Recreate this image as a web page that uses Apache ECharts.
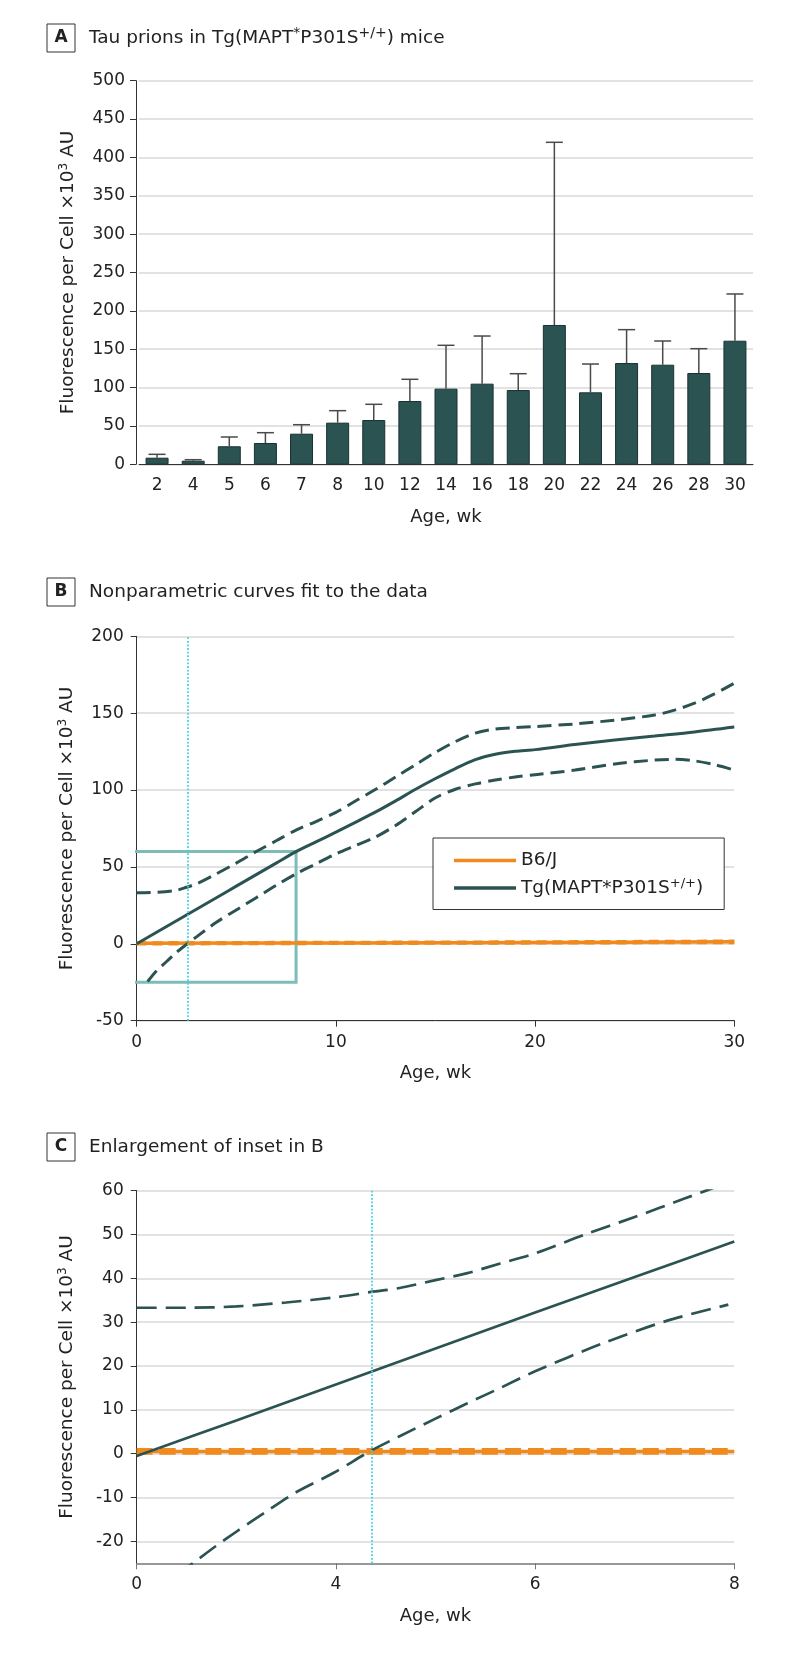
<!DOCTYPE html>
<html>
<head>
<meta charset="utf-8">
<script src="https://cdn.jsdelivr.net/npm/echarts@6/dist/echarts.min.js"></script>
<style>html,body{margin:0;padding:0;background:#fff}#chart{width:794px;height:1658px}</style>
</head>
<body>
<div id="chart"></div>
<script>
// ---------- Panel A: bar chart ----------
const ageCategories = ['2','4','5','6','7','8','10','12','14','16','18','20','22','24','26','28','30'];
const meanFluorescence = [8.6,4.7,23.5,27.8,39.9,54.3,57.7,82.5,98.6,105.1,96.8,181.6,93.8,132.0,129.8,119.0,161.1];
const upperErrorBar = [13.0,6.0,35.6,41.2,51.6,69.9,78.2,110.8,155.1,167.2,118.1,419.7,130.7,175.5,160.7,150.7,222.0];

// ---------- Panel B: nonparametric fits (x in weeks) ----------
const tgFitWeeks = [0,1,2,3,4,5,6,7,8,9,10,11,12,13,14,15,16,17,18,19,20,22,24,26,28,30];
const tgFitB = [0,7.5,15,22.5,30,37.5,45,52.5,60,66.3,72.6,79.2,85.8,93,100.5,107.5,114,119.8,123.3,125.2,126.3,129.6,132.6,135.2,137.8,141];
const tgUpperWeeks = [0,1,2,2.5,3,4,5,6,7,8,9,10,11,12,13,14,15,16,17,18,19,20,22,24,26,27,28,29,30];
const tgUpperB = [33.2,33.5,34.8,36.8,39,45.5,52.5,60,67,74,79.5,85.5,93,100.5,108.5,116.5,124.5,131.5,137,139.7,140.6,141.3,143,145.5,148.8,152,156.5,162.5,169.5];
const tgLowerWeeks = [0.55,1,1.5,2,2.5,3,4,5,6,7,8,9,10,11,12,13,14,15,16,17,18,19,20,22,24,26,27,28,29,30];
const tgLowerB = [-24.5,-17.5,-11.5,-5.5,-0.4,4.5,14,22,30,38,45.5,52,58.5,64,69.5,77,86,95,100.5,104,106.5,108.5,110,113,117,119.5,120,119,116.5,113];
const b6Weeks = [0,10,20,30];
const b6FitB = [0.3,0.6,0.9,1.3];
const b6UpperB = [0.9,1.2,1.5,2.0];
const b6LowerB = [-0.3,0,0.3,0.6];
const bCrossWeek = 2.54;          // dotted cyan line
const insetWeeks = [-2.14, 8];    // inset rectangle drawn in B
const insetValues = [-25, 60];

// ---------- Panel C: enlargement (x in tick-position units, labelled as printed) ----------
const cXTickLabels = ['0','4','6','8'];
const cYTicks = [-20,-10,0,10,20,30,40,50,60];
const cTgFitX = [0,0.5,1,1.5,2,2.5,3];
const cTgFit = [-0.5,7.6,15.8,24,32.2,40.3,48.4];
const cTgUpperX = [0,0.25,0.5,0.75,1,1.177,1.32,1.5,1.66,1.825,2,2.25,2.5,2.75,3];
const cTgUpper = [33.3,33.3,33.6,34.5,35.7,36.9,37.8,39.6,41.2,43.4,45.7,50,54,58.2,62.4];
const cTgLowerX = [0.2,0.284,0.4,0.5,0.653,0.8,0.987,1.177,1.32,1.5,1.66,1.825,2,2.33,2.66,2.97];
const cTgLower = [-27.7,-24.9,-21,-17.8,-13.1,-8.8,-4.4,0.7,4,8,11.5,15,18.8,25,30.3,34];
const cB6X = [0,3];
const cB6Fit = [0.5,0.5];
const cB6Upper = [1.0,1.0];
const cB6Lower = [0.05,0.05];
const cCrossPos = 1.177;

// ---------- styling ----------
const FONT = 'DejaVu Sans';
const TXT = '#222';
const TEAL = '#2b5352';
const ORANGE = '#f08a1e';
const CYAN = '#3fd6e2';
const INSET = '#7dbdb9';
const GRIDC = '#d9d9d9';
const TG_NAME = 'Tg(MAPT*P301S+/+)';

const zip = (xs, ys) => xs.map((x, i) => [x, ys[i]]);

const chart = echarts.init(document.getElementById('chart'), null, {renderer: 'canvas'});

function titleOpt(letter, body, top) {
  return {
    left: 47, top: top, padding: 0,
    text: '{box|' + letter + '}{gap|}' + body,
    textStyle: {
      fontFamily: FONT, color: TXT, fontWeight: 'normal',
      rich: {
        box: {width: 28, height: 28, lineHeight: 28, align: 'center', borderColor: '#333', borderWidth: 1,
              fontWeight: 'bold', fontSize: 17, fontFamily: FONT, color: TXT},
        gap: {width: 14},
        t: {fontSize: 18.5, fontFamily: FONT, color: TXT},
        sup: {fontSize: 14, fontFamily: FONT, color: TXT, padding: [0, 0, 10, 0]}
      }
    }
  };
}

const yName = '{n|Fluorescence per Cell ×10}{s|3}{n| AU}';
const yNameStyle = {
  color: TXT, fontFamily: FONT,
  rich: {
    n: {fontSize: 18.5, fontFamily: FONT, color: TXT},
    s: {fontSize: 12, fontFamily: FONT, color: TXT, padding: [0, 0, 9, 0]}
  }
};
const axisLabelStyle = {fontSize: 17, color: TXT, fontFamily: FONT};
const nameStyle = {fontSize: 18, color: TXT, fontFamily: FONT};

function lineSeries(name, data, xi, color, width, dash, z) {
  return {
    name: name, type: 'line', xAxisIndex: xi, yAxisIndex: xi, data: data,
    symbol: 'none', smooth: 0.3, z: z || 3,
    itemStyle: {color: color},
    lineStyle: {color: color, width: width, type: dash || 'solid'},
    emphasis: {disabled: true}
  };
}

const cross = (v) => ({
  silent: true, symbol: 'none', label: {show: false},
  lineStyle: {color: CYAN, type: 'dotted', width: 1.8},
  data: [{xAxis: v}]
});

const option = {
  animation: false,
  backgroundColor: '#fff',
  textStyle: {fontFamily: FONT, color: TXT},
  title: [
    titleOpt('A', '{t|Tau prions in Tg(MAPT}{sup|*}{t|P301S}{sup|+/+}{t|) mice}', 24),
    titleOpt('B', '{t|Nonparametric curves fit to the data}', 578),
    titleOpt('C', '{t|Enlargement of inset in B}', 1133)
  ],
  legend: {
    data: ['B6/J', TG_NAME],
    orient: 'vertical', left: 433, top: 838,
    padding: [13, 21, 12, 21], itemGap: 7, itemWidth: 62, itemHeight: 3.5,
    icon: 'rect',
    borderColor: '#333', borderWidth: 1, backgroundColor: '#fff',
    textStyle: {
      fontSize: 18.5, color: TXT, fontFamily: FONT,
      rich: {
        n: {fontSize: 18.5, fontFamily: FONT, color: TXT, lineHeight: 20},
        s: {fontSize: 13, fontFamily: FONT, color: TXT, padding: [0, 0, 9, 0]}
      }
    },
    formatter: n => n === TG_NAME ? '{n|Tg(MAPT*P301S}{s|+/+}{n|)}' : '{n|' + n + '}'
  },
  grid: [
    {left: 139, top: 80.7, width: 614, height: 383.6},
    {left: 136.7, top: 636.3, width: 597.6, height: 384.4},
    {left: 136.7, top: 1190.7, width: 597.6, height: 372.6}
  ],
  xAxis: [
    {
      type: 'category', gridIndex: 0, data: ageCategories,
      axisTick: {show: false},
      axisLine: {show: true, lineStyle: {color: '#333', width: 1}},
      axisLabel: Object.assign({margin: 13, interval: 0}, axisLabelStyle),
      name: 'Age, wk', nameLocation: 'middle', nameGap: 44, nameTextStyle: nameStyle
    },
    {
      type: 'value', gridIndex: 1, min: 0, max: 30, interval: 10,
      axisLine: {show: true, onZero: false, lineStyle: {color: '#333', width: 1}},
      axisTick: {show: true, length: 6, lineStyle: {color: '#333'}},
      splitLine: {show: false},
      axisLabel: Object.assign({margin: 13}, axisLabelStyle),
      name: 'Age, wk', nameLocation: 'middle', nameGap: 44, nameTextStyle: nameStyle
    },
    {
      type: 'value', gridIndex: 2, min: 0, max: 3, interval: 1,
      axisLine: {show: true, onZero: false, lineStyle: {color: '#777', width: 1.5}},
      axisTick: {show: true, length: 6, lineStyle: {color: '#777'}},
      splitLine: {show: false},
      axisLabel: Object.assign({margin: 13, formatter: v => cXTickLabels[Math.round(v)]}, axisLabelStyle),
      name: 'Age, wk', nameLocation: 'middle', nameGap: 44, nameTextStyle: nameStyle
    }
  ],
  yAxis: [
    {
      type: 'value', gridIndex: 0, min: 0, max: 500, interval: 50, offset: 3,
      axisLine: {show: true, lineStyle: {color: '#333', width: 1}},
      axisTick: {show: true, length: 6, lineStyle: {color: '#333'}},
      splitLine: {show: true, lineStyle: {color: GRIDC, width: 1.5}},
      axisLabel: Object.assign({margin: 11}, axisLabelStyle),
      name: yName, nameLocation: 'middle', nameGap: 57, nameRotate: 90, nameTextStyle: yNameStyle
    },
    {
      type: 'value', gridIndex: 1, min: -50, max: 200, interval: 50,
      axisLine: {show: true, onZero: false, lineStyle: {color: '#333', width: 1}},
      axisTick: {show: true, length: 6, lineStyle: {color: '#333'}},
      splitLine: {show: true, lineStyle: {color: GRIDC, width: 1.5}},
      axisLabel: Object.assign({margin: 13}, axisLabelStyle),
      name: yName, nameLocation: 'middle', nameGap: 59, nameRotate: 90, nameTextStyle: yNameStyle
    },
    {
      type: 'value', gridIndex: 2, min: -25, max: 60,
      axisLine: {show: true, onZero: false, lineStyle: {color: '#333', width: 1}},
      axisTick: {show: true, length: 6, lineStyle: {color: '#333'}, customValues: cYTicks},
      splitLine: {show: true, lineStyle: {color: GRIDC, width: 1.5}},
      axisLabel: Object.assign({margin: 13, customValues: cYTicks}, axisLabelStyle),
      name: yName, nameLocation: 'middle', nameGap: 59, nameRotate: 90, nameTextStyle: yNameStyle
    }
  ],
  series: [
    // Panel A
    {
      name: 'Mean', type: 'bar', xAxisIndex: 0, yAxisIndex: 0, data: meanFluorescence,
      barWidth: 23,
      itemStyle: {color: TEAL, borderColor: '#1a3131', borderWidth: 1},
      emphasis: {disabled: true}, z: 2
    },
    {
      name: 'SD', type: 'custom', xAxisIndex: 0, yAxisIndex: 0,
      data: ageCategories.map((c, i) => [i, meanFluorescence[i], upperErrorBar[i]]),
      encode: {x: 0, y: [1, 2]}, z: 3,
      renderItem: (params, api) => {
        const p0 = api.coord([api.value(0), api.value(1)]);
        const p1 = api.coord([api.value(0), api.value(2)]);
        const half = 8.5;
        const st = {stroke: '#4a4a4a', lineWidth: 1.5};
        return {type: 'group', children: [
          {type: 'line', shape: {x1: p0[0], y1: p0[1], x2: p1[0], y2: p1[1]}, style: st},
          {type: 'line', shape: {x1: p1[0] - half, y1: p1[1], x2: p1[0] + half, y2: p1[1]}, style: st}
        ]};
      }
    },
    // Panel B
    {
      name: 'Inset', type: 'line', xAxisIndex: 1, yAxisIndex: 1, clip: false, symbol: 'none', z: 1,
      data: [[insetWeeks[0], insetValues[1]], [insetWeeks[1], insetValues[1]], [insetWeeks[1], insetValues[0]],
             [insetWeeks[0], insetValues[0]], [insetWeeks[0], insetValues[1]]],
      lineStyle: {color: INSET, width: 3, join: 'miter'}, emphasis: {disabled: true}
    },
    lineSeries('B6/J upper', zip(b6Weeks, b6UpperB), 1, ORANGE, 2.5, [10, 6], 2),
    lineSeries('B6/J lower', zip(b6Weeks, b6LowerB), 1, ORANGE, 2.5, [10, 6], 2),
    lineSeries('B6/J', zip(b6Weeks, b6FitB), 1, ORANGE, 3.5, 'solid', 2),
    lineSeries('Tg upper', zip(tgUpperWeeks, tgUpperB), 1, TEAL, 3, [14, 7], 4),
    lineSeries('Tg lower', zip(tgLowerWeeks, tgLowerB), 1, TEAL, 3, [14, 7], 4),
    Object.assign(lineSeries(TG_NAME, zip(tgFitWeeks, tgFitB), 1, TEAL, 3, 'solid', 4), {markLine: cross(bCrossWeek)}),
    // Panel C
    lineSeries('B6/J upper C', zip(cB6X, cB6Upper), 2, ORANGE, 2.5, [16, 7], 2),
    lineSeries('B6/J lower C', zip(cB6X, cB6Lower), 2, ORANGE, 2.5, [16, 7], 2),
    lineSeries('B6/J', zip(cB6X, cB6Fit), 2, ORANGE, 3.5, 'solid', 2),
    lineSeries('Tg upper C', zip(cTgUpperX, cTgUpper), 2, TEAL, 2.7, [20, 9], 4),
    lineSeries('Tg lower C', zip(cTgLowerX, cTgLower), 2, TEAL, 2.7, [20, 9], 4),
    Object.assign(lineSeries(TG_NAME, zip(cTgFitX, cTgFit), 2, TEAL, 2.7, 'solid', 4), {markLine: cross(cCrossPos)})
  ]
};

chart.setOption(option);
</script>
</body>
</html>
